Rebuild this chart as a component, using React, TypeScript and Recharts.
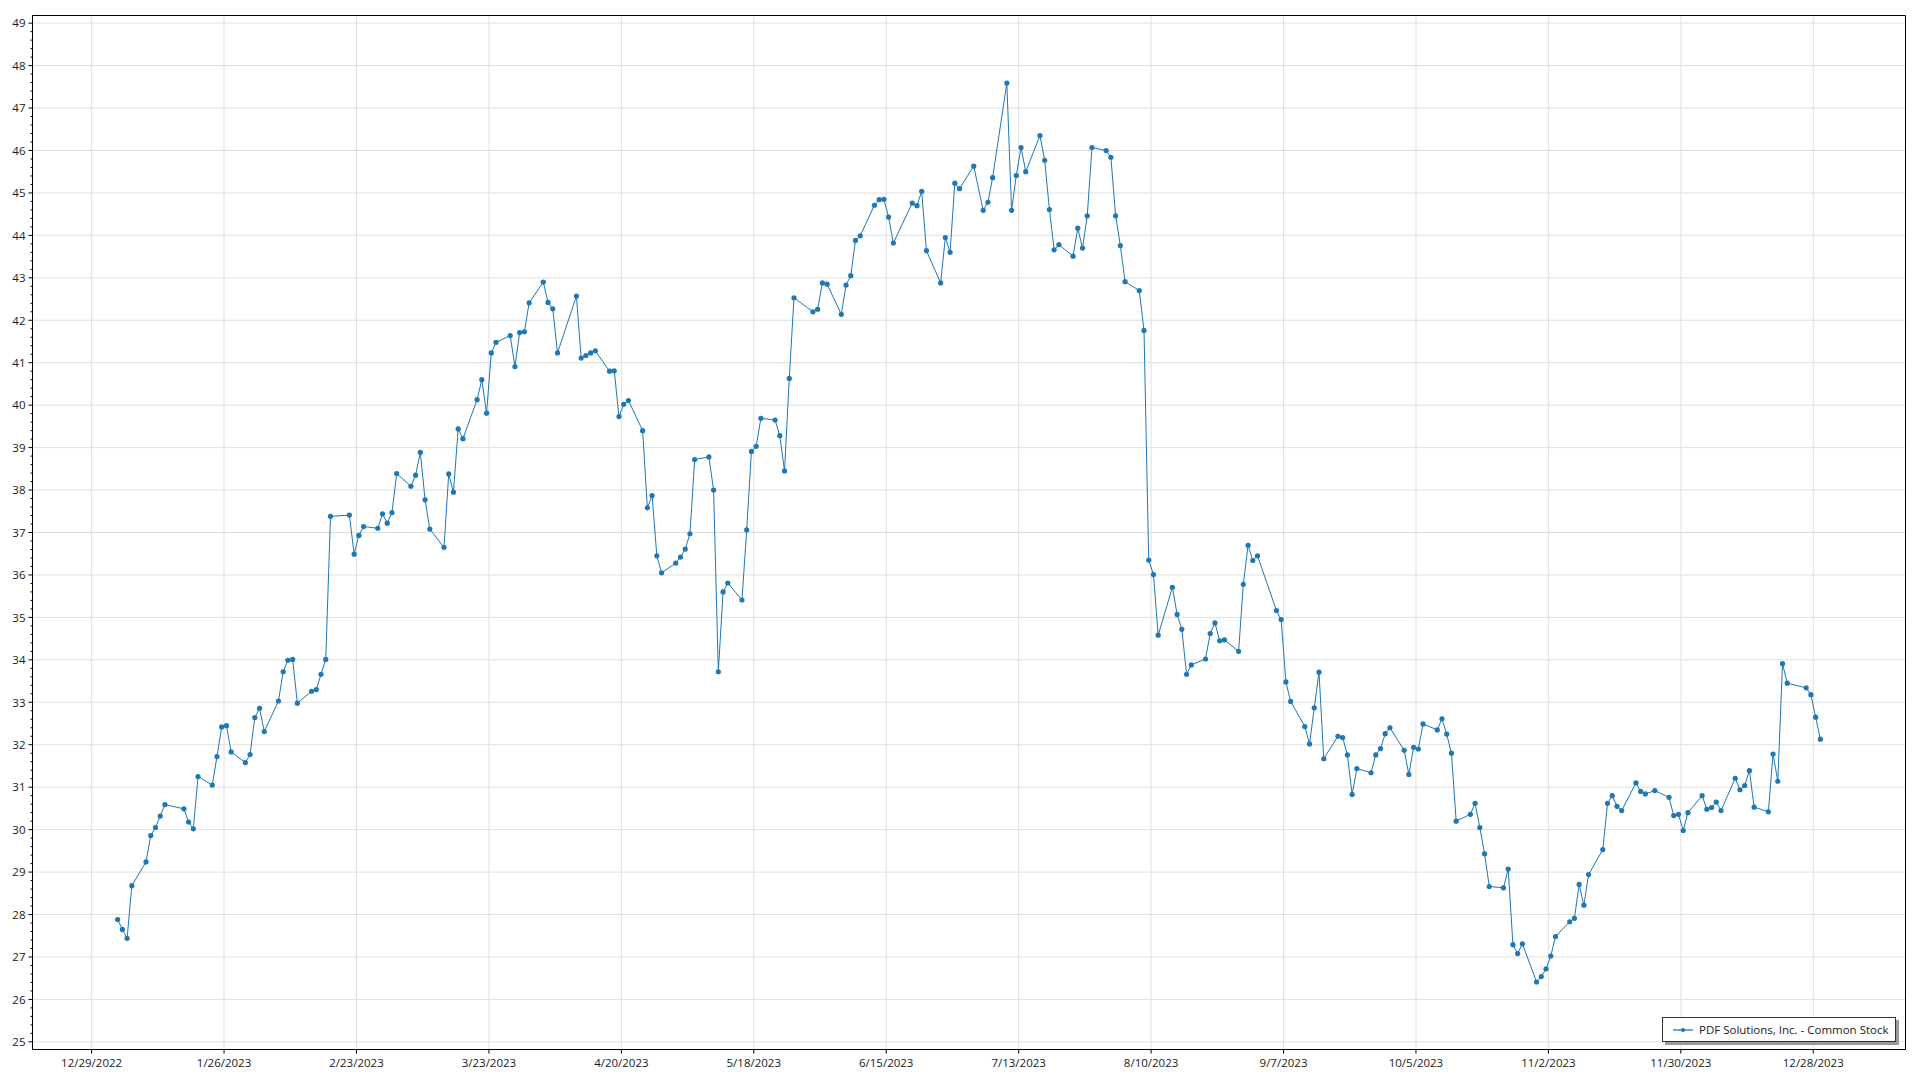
import React from 'react';
import { LineChart, Line, XAxis, YAxis, CartesianGrid, ReferenceArea } from 'recharts';

// Trading days (day of month) and closing prices, 2023
const janDays = [3, 4, 5, 6, 9, 10, 11, 12, 13, 17, 18, 19, 20, 23, 24, 25, 26, 27, 30, 31];
const janClose = [27.88, 27.65, 27.44, 28.68, 29.24, 29.86, 30.05, 30.32, 30.59, 30.49, 30.18, 30.02, 31.25, 31.05, 31.72, 32.42, 32.45, 31.83, 31.58, 31.77];
const febDays = [1, 2, 3, 6, 7, 8, 9, 10, 13, 14, 15, 16, 17, 21, 22, 23, 24, 27, 28];
const febClose = [32.64, 32.86, 32.31, 33.03, 33.72, 33.99, 34.01, 32.98, 33.26, 33.3, 33.66, 34.01, 37.38, 37.41, 36.49, 36.93, 37.14, 37.1, 37.44];
const marDays = [1, 2, 3, 6, 7, 8, 9, 10, 13, 14, 15, 16, 17, 20, 21, 22, 23, 24, 27, 28, 29, 30, 31];
const marClose = [37.22, 37.47, 38.39, 38.09, 38.35, 38.89, 37.77, 37.08, 36.65, 38.38, 37.95, 39.44, 39.21, 40.13, 40.6, 39.81, 41.23, 41.48, 41.64, 40.91, 41.71, 41.73, 42.41];
const aprDays = [3, 4, 5, 6, 10, 11, 12, 13, 14, 17, 18, 19, 20, 21, 24, 25, 26, 27, 28];
const aprClose = [42.9, 42.42, 42.27, 41.23, 42.57, 41.11, 41.17, 41.23, 41.28, 40.8, 40.81, 39.73, 40.02, 40.11, 39.4, 37.58, 37.87, 36.45, 36.05];
const mayDays = [1, 2, 3, 4, 5, 8, 9, 10, 11, 12, 15, 16, 17, 18, 19, 22, 23, 24, 25, 26, 30, 31];
const mayClose = [36.28, 36.42, 36.61, 36.97, 38.72, 38.78, 38.0, 33.72, 35.6, 35.81, 35.41, 37.06, 38.91, 39.03, 39.69, 39.65, 39.28, 38.45, 40.63, 42.53, 42.2, 42.26];
const junDays = [1, 2, 5, 6, 7, 8, 9, 12, 13, 14, 15, 16, 20, 21, 22, 23, 26, 27, 28, 29, 30];
const junClose = [42.88, 42.85, 42.14, 42.83, 43.05, 43.88, 43.99, 44.71, 44.84, 44.85, 44.43, 43.82, 44.76, 44.7, 45.04, 43.64, 42.88, 43.95, 43.6, 45.23, 45.1];
const julDays = [3, 5, 6, 7, 10, 11, 12, 13, 14, 17, 18, 19, 20, 21, 24, 25, 26, 27, 28, 31];
const julClose = [45.63, 44.59, 44.78, 45.36, 47.59, 44.59, 45.41, 46.07, 45.5, 46.35, 45.77, 44.61, 43.66, 43.78, 43.51, 44.17, 43.7, 44.46, 46.07, 46.0];
const augDays = [1, 2, 3, 4, 7, 8, 9, 10, 11, 14, 15, 16, 17, 18, 21, 22, 23, 24, 25, 28, 29, 30, 31];
const augClose = [45.84, 44.46, 43.76, 42.91, 42.7, 41.76, 36.35, 36.01, 34.58, 35.71, 35.07, 34.72, 33.66, 33.88, 34.02, 34.62, 34.87, 34.45, 34.47, 34.2, 35.78, 36.7, 36.34];
const sepDays = [1, 5, 6, 7, 8, 11, 12, 13, 14, 15, 18, 19, 20, 21, 22, 25, 26, 27, 28, 29];
const sepClose = [36.45, 35.16, 34.95, 33.48, 33.02, 32.43, 32.02, 32.87, 33.71, 31.67, 32.2, 32.17, 31.76, 30.83, 31.44, 31.34, 31.76, 31.91, 32.26, 32.4];
const octDays = [2, 3, 4, 5, 6, 9, 10, 11, 12, 13, 16, 17, 18, 19, 20, 23, 24, 25, 26, 27, 30, 31];
const octClose = [31.87, 31.3, 31.94, 31.9, 32.49, 32.35, 32.61, 32.25, 31.8, 30.2, 30.36, 30.62, 30.05, 29.43, 28.66, 28.63, 29.07, 27.29, 27.08, 27.31, 26.41, 26.54];
const novDays = [1, 2, 3, 6, 7, 8, 9, 10, 13, 14, 15, 16, 17, 20, 21, 22, 24, 27, 28, 29, 30];
const novClose = [26.72, 27.02, 27.48, 27.83, 27.91, 28.71, 28.22, 28.94, 29.53, 30.62, 30.8, 30.55, 30.45, 31.1, 30.9, 30.84, 30.92, 30.76, 30.33, 30.36, 29.98];
const decDays = [1, 4, 5, 6, 7, 8, 11, 12, 13, 14, 15, 18, 19, 20, 21, 22, 26, 27, 28, 29];
const decClose = [30.4, 30.8, 30.48, 30.52, 30.65, 30.45, 31.21, 30.94, 31.04, 31.39, 30.53, 30.42, 31.78, 31.14, 33.91, 33.45, 33.34, 33.18, 32.65, 32.13];

const xTickLabels = ['12/29/2022', '1/26/2023', '2/23/2023', '3/23/2023', '4/20/2023', '5/18/2023', '6/15/2023', '7/13/2023', '8/10/2023', '9/7/2023', '10/5/2023', '11/2/2023', '11/30/2023', '12/28/2023'];
const yMajorTicks = [25, 26, 27, 28, 29, 30, 31, 32, 33, 34, 35, 36, 37, 38, 39, 40, 41, 42, 43, 44, 45, 46, 47, 48, 49];
const seriesName = 'PDF Solutions, Inc. - Common Stock';

const DAY = 86400000;
const months = [
  [janDays, janClose], [febDays, febClose], [marDays, marClose], [aprDays, aprClose],
  [mayDays, mayClose], [junDays, junClose], [julDays, julClose], [augDays, augClose],
  [sepDays, sepClose], [octDays, octClose], [novDays, novClose], [decDays, decClose],
];
const data: { t: number; v: number }[] = [];
months.forEach(([days, vals], m) => {
  days.forEach((d, i) => data.push({ t: Date.UTC(2023, m, d) + DAY / 2, v: vals[i] }));
});

const parseLabel = (s: string) => {
  const [m, d, y] = s.split('/').map(Number);
  return Date.UTC(y, m - 1, d);
};
const xTicks = xTickLabels.map(parseLabel);
const xDomain = [data[0].t - 18 * DAY, data[data.length - 1].t + 18 * DAY];
const yDomain = [24.82, 49.18];
const yAllTicks: number[] = [];
for (let i = 0; i <= 120; i++) yAllTicks.push(Math.round((25 + i * 0.2) * 10) / 10);

const FONT = '"Open Sans", "Noto Sans", sans-serif';

const fmt = (v: number) => {
  const d = new Date(v);
  return `${d.getUTCMonth() + 1}/${d.getUTCDate()}/${d.getUTCFullYear()}`;
};

const XTick = (props: any) => {
  const { x, y, payload } = props;
  return (
    <g>
      <line x1={x} x2={x} y1={y} y2={y + 4} stroke="#000" strokeWidth={1} />
      <text x={x} y={y + 17} textAnchor="middle" fontSize={11.5} fontFamily={FONT} fill="#1a1a1a">
        {fmt(payload.value)}
      </text>
    </g>
  );
};

const YTick = (props: any) => {
  const { x, y, payload } = props;
  const v = payload.value;
  const major = Math.abs(v - Math.round(v)) < 1e-6;
  return (
    <g>
      <line x1={x - (major ? 4 : 2)} x2={x} y1={y} y2={y} stroke="#000" strokeWidth={1} />
      {major && (
        <text x={x - 7} y={y + 4.3} textAnchor="end" fontSize={11.5} fontFamily={FONT} fill="#1a1a1a">
          {Math.round(v)}
        </text>
      )}
    </g>
  );
};

export default function App() {
  return (
    <div style={{ position: 'absolute', left: 0, top: 0, width: 1920, height: 1080, background: '#fff' }}>
      <LineChart width={1920} height={1080} data={data} margin={{ top: 15.5, right: 14.5, left: 0.5, bottom: 0.5 }}>
        <CartesianGrid stroke="#e0e0e0" horizontalValues={yMajorTicks} verticalValues={xTicks} />
        <XAxis
          dataKey="t"
          type="number"
          domain={xDomain}
          ticks={xTicks}
          interval={0}
          allowDataOverflow
          height={30}
          tickSize={0}
          tickMargin={0}
          tick={<XTick />}
          tickLine={false}
          axisLine={{ stroke: '#000' }}
        />
        <YAxis
          type="number"
          domain={yDomain}
          ticks={yAllTicks}
          interval={0}
          allowDataOverflow
          width={32}
          tickSize={0}
          tickMargin={0}
          tick={<YTick />}
          tickLine={false}
          axisLine={{ stroke: '#000' }}
        />
        <ReferenceArea
          x1={xDomain[0]}
          x2={xDomain[1]}
          y1={yDomain[0]}
          y2={yDomain[1]}
          fill="none"
          stroke="#000"
          strokeWidth={1}
          ifOverflow="visible"
        />
        <Line
          dataKey="v"
          name={seriesName}
          stroke="#1f77b4"
          strokeWidth={1}
          dot={{ r: 2.6, fill: '#1f77b4', stroke: '#1f77b4', strokeWidth: 0 }}
          activeDot={false}
          isAnimationActive={false}
        />
      </LineChart>
      <div
        style={{
          position: 'absolute',
          left: 1662,
          top: 1017,
          width: 234,
          height: 25,
          border: '1px solid #333',
          background: '#fff',
          boxShadow: '3px 3px 0 #9a9a9a',
          boxSizing: 'border-box',
          display: 'flex',
          alignItems: 'center',
          fontFamily: FONT,
          fontSize: 11.5,
          color: '#1a1a1a',
        }}
      >
        <svg width={36} height={12} style={{ flex: 'none' }}>
          <line x1={10} x2={30} y1={6} y2={6} stroke="#1f77b4" strokeOpacity={0.65} strokeWidth={2} />
          <circle cx={20} cy={6} r={2} fill="#1f77b4" />
        </svg>
        <span style={{ whiteSpace: 'nowrap' }}>{seriesName}</span>
      </div>
    </div>
  );
}
